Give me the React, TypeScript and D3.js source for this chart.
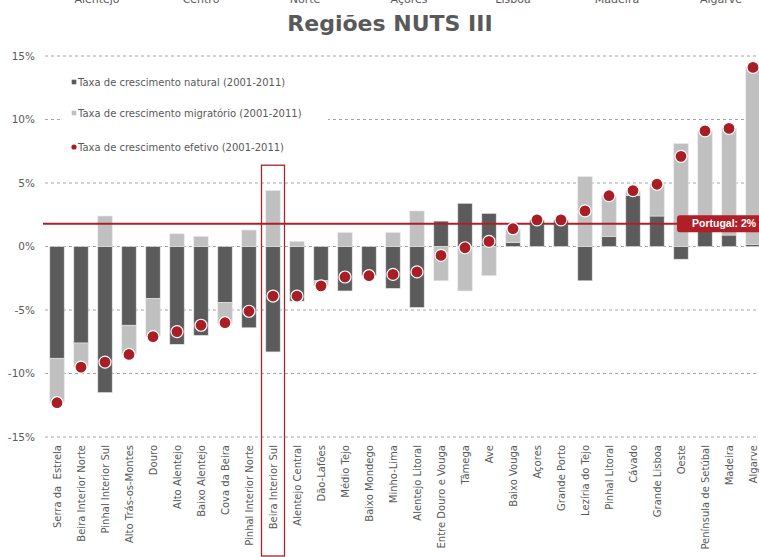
import React, { useEffect, useRef } from 'react';
import * as d3 from 'd3';

// NUTS III regions, sorted by effective growth
const regions = [
  'Serra da  Estrela', 'Beira Interior Norte', 'Pinhal Interior Sul', 'Alto Trás-os-Montes', 'Douro',
  'Alto Alentejo', 'Baixo Alentejo', 'Cova da Beira', 'Pinhal Interior Norte', 'Beira Interior Sul',
  'Alentejo Central', 'Dão-Lafões', 'Médio Tejo', 'Baixo Mondego', 'Minho-Lima',
  'Alentejo Litoral', 'Entre Douro e Vouga', 'Tâmega', 'Ave', 'Baixo Vouga',
  'Açores', 'Grande Porto', 'Lezíria do Tejo', 'Pinhal Litoral', 'Cávado',
  'Grande Lisboa', 'Oeste', 'Península de Setúbal', 'Madeira', 'Algarve',
];

const natural = [
  -8.8, -7.6, -11.5, -6.2, -4.1, -7.7, -7.0, -4.4, -6.4, -8.3,
  -4.3, -2.7, -3.5, -2.3, -3.3, -4.8, 2.0, 3.4, 2.6, 0.3,
  2.1, 2.1, -2.7, 0.8, 4.0, 2.4, -1.0, 1.2, 0.9, 0.15,
];

const migratory = [
  -3.5, -1.9, 2.4, -2.3, -3.0, 1.0, 0.8, -1.7, 1.3, 4.4,
  0.4, -0.4, 1.1, 0, 1.1, 2.8, -2.7, -3.5, -2.3, 1.1,
  0, 0, 5.5, 3.2, 0.4, 2.5, 8.1, 7.9, 8.4, 14.0,
];

const effective = [
  -12.3, -9.5, -9.1, -8.5, -7.1, -6.7, -6.2, -6.0, -5.1, -3.9,
  -3.9, -3.1, -2.4, -2.3, -2.2, -2.0, -0.7, -0.1, 0.4, 1.4,
  2.1, 2.1, 2.8, 4.0, 4.4, 4.9, 7.1, 9.1, 9.3, 14.1,
];

const yTicks = [-15, -10, -5, 0, 5, 10, 15];
const portugalRate = 1.8;
const highlighted = 'Beira Interior Sul';

// labels of the chart above, cut off at the top of the picture
const topLabels = ['Alentejo', 'Centro', 'Norte', 'Açores', 'Lisboa', 'Madeira', 'Algarve'];

const legendItems = [
  { label: 'Taxa de crescimento natural (2001-2011)', color: '#5a5b5a', shape: 'square' },
  { label: 'Taxa de crescimento migratório (2001-2011)', color: '#bfc0bf', shape: 'square' },
  { label: 'Taxa de crescimento efetivo (2001-2011)', color: '#a91d25', shape: 'dot' },
];

const W = 759;
const H = 557;
const FONT = '"DejaVu Sans", Verdana, sans-serif';
const TEXT = '#595959';

export default function App() {
  const svgRef = useRef<SVGSVGElement>(null);

  useEffect(() => {
    const svg = d3.select(svgRef.current);
    svg.selectAll('*').remove();

    const left = 45;
    const right = 765;

    const x = d3.scaleBand<string>()
      .domain(regions)
      .range([left, right])
      .paddingInner(0.4)
      .paddingOuter(0.2);

    const y = d3.scaleLinear().domain([-15, 15]).range([437, 56]);

    // top cut-off labels
    const xTop = d3.scalePoint<string>().domain(topLabels).range([97, 721]);
    svg.append('g')
      .selectAll('text')
      .data(topLabels)
      .enter()
      .append('text')
      .attr('x', d => xTop(d) as number)
      .attr('y', 3)
      .attr('text-anchor', 'middle')
      .style('font-family', FONT)
      .style('font-size', '11px')
      .style('fill', TEXT)
      .text(d => d);

    // Title
    svg.append('text')
      .attr('x', 390)
      .attr('y', 31)
      .attr('text-anchor', 'middle')
      .style('font-family', FONT)
      .style('font-size', '22px')
      .style('font-weight', 'bold')
      .style('fill', TEXT)
      .text('Regiões NUTS III');

    // Grid lines
    svg.append('g')
      .selectAll('line')
      .data(yTicks)
      .enter()
      .append('line')
      .attr('x1', left)
      .attr('x2', right)
      .attr('y1', d => y(d))
      .attr('y2', d => y(d))
      .style('stroke', '#a6a6a6')
      .style('stroke-dasharray', '3,3')
      .style('stroke-width', 1);

    // Y labels
    svg.append('g')
      .selectAll('text')
      .data(yTicks)
      .enter()
      .append('text')
      .attr('x', 35)
      .attr('y', d => y(d))
      .attr('dy', '0.35em')
      .attr('text-anchor', 'end')
      .style('font-family', FONT)
      .style('font-size', '10.5px')
      .style('fill', TEXT)
      .text(d => `${d}%`);

    // Stacked bars (diverging)
    const rows = regions.map((r, i) => ({ region: r, natural: natural[i], migratory: migratory[i] }));
    const series = d3.stack<typeof rows[0]>()
      .keys(['natural', 'migratory'])
      .offset(d3.stackOffsetDiverging)(rows as any);
    const colors: Record<string, string> = { natural: '#5a5b5a', migratory: '#bfc0bf' };

    series.forEach(s => {
      svg.append('g')
        .selectAll('rect')
        .data(s)
        .enter()
        .append('rect')
        .attr('x', d => x(d.data.region) as number)
        .attr('width', x.bandwidth())
        .attr('y', d => y(Math.max(d[0], d[1])))
        .attr('height', d => Math.abs(y(d[0]) - y(d[1])))
        .style('fill', colors[s.key])
        .style('stroke', '#e4e4e4')
        .style('stroke-width', 0.6);
    });

    // Legend (white box over grid)
    svg.append('rect')
      .attr('x', 60)
      .attr('y', 66)
      .attr('width', 268)
      .attr('height', 94)
      .style('fill', '#fff');

    const legendY = [82, 113, 147];
    const legend = svg.append('g');
    legendItems.forEach((d, i) => {
      const g = legend.append('g').attr('transform', `translate(74, ${legendY[i]})`);
      if (d.shape === 'square') {
        g.append('rect').attr('x', -2.3).attr('y', -2.3).attr('width', 4.6).attr('height', 4.6).style('fill', d.color);
      } else {
        g.append('circle').attr('r', 2.6).style('fill', d.color);
      }
      g.append('text')
        .attr('x', 4)
        .attr('y', 0)
        .attr('dy', '0.35em')
        .style('font-family', FONT)
        .style('font-size', '10px')
        .style('fill', TEXT)
        .text(d.label);
    });

    // Portugal line
    const labelX = 677;
    svg.append('line')
      .attr('x1', 43)
      .attr('x2', labelX)
      .attr('y1', y(portugalRate))
      .attr('y2', y(portugalRate))
      .style('stroke', '#b01f27')
      .style('stroke-width', 2);

    // Effective dots
    svg.append('g')
      .selectAll('circle')
      .data(effective)
      .enter()
      .append('circle')
      .attr('cx', (d, i) => (x(regions[i]) as number) + x.bandwidth() / 2)
      .attr('cy', d => y(d))
      .attr('r', 6)
      .style('fill', '#a91d25')
      .style('stroke', '#fff')
      .style('stroke-width', 1.2);

    // Portugal label
    svg.append('rect')
      .attr('x', labelX)
      .attr('y', y(portugalRate) - 8.5)
      .attr('width', 95)
      .attr('height', 17)
      .attr('rx', 3)
      .style('fill', '#b01f27');
    svg.append('text')
      .attr('x', 692)
      .attr('y', y(portugalRate))
      .attr('dy', '0.35em')
      .style('font-family', '"Liberation Sans", Arial, sans-serif')
      .style('font-size', '10.5px')
      .style('font-weight', 'bold')
      .style('fill', '#fff')
      .text('Portugal: 2%');

    // X labels
    svg.append('g')
      .selectAll('text')
      .data(regions)
      .enter()
      .append('text')
      .attr('transform', d => `translate(${(x(d) as number) + x.bandwidth() / 2}, 445) rotate(-90)`)
      .attr('dy', '0.35em')
      .attr('text-anchor', 'end')
      .style('font-family', FONT)
      .style('font-size', '10px')
      .style('fill', TEXT)
      .style('white-space', 'pre')
      .text(d => d);

    // Highlight box
    const step = x.step();
    svg.append('rect')
      .attr('x', (x(highlighted) as number) - step * 0.2 + 0.5)
      .attr('y', y(6.4))
      .attr('width', step - 1)
      .attr('height', 556 - y(6.4))
      .style('fill', 'none')
      .style('stroke', '#a3262b')
      .style('stroke-width', 1.3);
  }, []);

  return (
    <svg
      ref={svgRef}
      width={W}
      height={H}
      style={{ position: 'absolute', left: 0, top: 0, overflow: 'hidden', background: '#fff' }}
    />
  );
}
